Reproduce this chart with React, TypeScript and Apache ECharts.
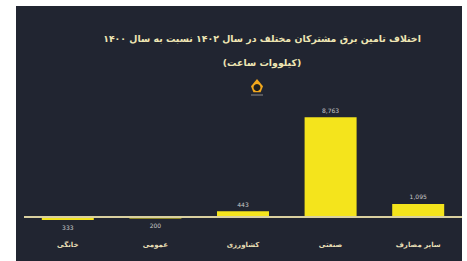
import React, { useEffect, useRef } from "react";
import * as echarts from "echarts";

const categories = ["خانگی", "عمومی", "کشاورزی", "صنعتی", "سایر مصارف"];
const values = [-333, -200, 443, 8763, 1095];
const titleText = "اختلاف تامین برق مشترکان مختلف در سال ۱۴۰۲ نسبت به سال ۱۴۰۰";
const subtitleText = "(کیلووات ساعت)";

const LOGO_D = "M10 0 L20 12 L16 22 L4 22 L0 12 Z";

export default function App() {
  const ref = useRef<HTMLDivElement>(null);
  useEffect(() => {
    document.body.style.margin = "0";
    try {
      echarts.graphic.registerShape("logo", echarts.graphic.extendPath(LOGO_D, {}) as any);
    } catch (e) {}
    const chart = echarts.init(ref.current!, null, { renderer: "svg" });
    chart.setOption({
      animation: false,
      backgroundColor: "#212531",
      title: [
        {
          text: titleText,
          left: 241,
          top: 23,
          textAlign: "center",
          textStyle: { color: "#efe6b4", fontSize: 9.4, fontWeight: "bold", fontFamily: "DejaVu Sans" },
        },
        {
          text: subtitleText,
          left: 241,
          top: 47,
          textAlign: "center",
          textStyle: { color: "#efe6b4", fontSize: 9.4, fontWeight: "bold", fontFamily: "DejaVu Sans" },
        },
      ],
      graphic: [
        { type: "logo", x: 235, y: 73, scaleX: 0.6, scaleY: 0.6, style: { fill: "#f2a81d" } },
        { type: "circle", shape: { cx: 241, cy: 81.5, r: 3.5 }, style: { fill: "#1e1e1e" } },
        { type: "line", shape: { x1: 235, y1: 89, x2: 247, y2: 89 }, style: { stroke: "#8a8a8a", lineWidth: 1 } },
      ],
      grid: { left: 8, right: 0, top: 108.6, bottom: 39 },
      xAxis: {
        type: "category",
        data: categories,
        axisLine: { show: false },
        axisTick: { show: false },
        axisLabel: {
          color: "#e8dfb6",
          fontSize: 7,
          fontWeight: "bold",
          fontFamily: "DejaVu Sans",
          margin: 19,
        },
      },
      yAxis: { type: "value", min: -500, max: 9000, show: false, splitLine: { show: false } },
      series: [
        {
          type: "bar",
          barWidth: 52,
          data: values.map((v) => ({
            value: v,
            label: { position: v < 0 ? "bottom" : "top" },
          })),
          itemStyle: { color: "#f4e41c" },
          label: {
            show: true,
            color: "#c9c9c9",
            fontSize: 6,
            fontFamily: "DejaVu Sans",
            distance: 4,
            formatter: (p: any) => Math.abs(p.value).toLocaleString("en-US"),
          },
          markLine: {
            silent: true,
            symbol: "none",
            label: { show: false },
            lineStyle: { color: "#d9d0a0", width: 2, type: "solid" },
            data: [{ yAxis: 0 }],
          },
        },
      ],
    });
    return () => chart.dispose();
  }, []);
  return (
    <div style={{ width: 467, height: 261, background: "#ffffff", position: "relative" }}>
      <div ref={ref} style={{ position: "absolute", left: 16, top: 6, width: 446, height: 255 }} />
    </div>
  );
}
